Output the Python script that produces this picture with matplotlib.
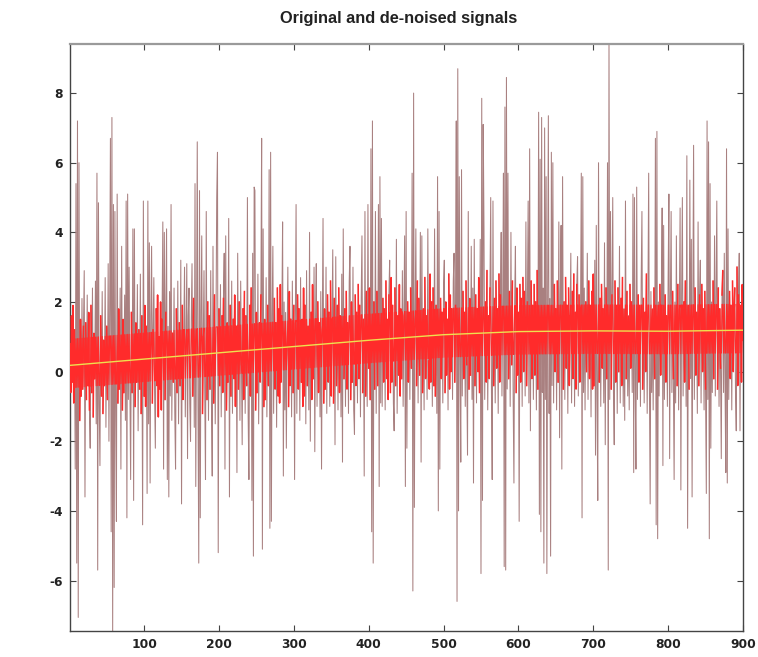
import numpy as np
import matplotlib
matplotlib.use("Agg")
import matplotlib.pyplot as plt

plt.rcParams['axes.unicode_minus'] = False

# noisy measurement, one value per sample (samples 1..900)
noisy = [
    0.8, -0.6, 1.6, -0.3, 1.9, -0.9, 1.2, -2.8, 5.4, -5.5, 7.2, -7.06, 6.0, -1.4, 1.5, -0.7, 2.1, -0.5, 1.3, 2.9,
    -3.6, 1.4, -0.8, 2.2, -0.4, 1.7, -1.1, -2.2, 1.9, -0.6, 2.4, -1.3, 1.1, -0.2, 2.6, -1.5, 5.7, -5.7, 4.85, -0.9,
    -2.7, 1.6, -0.7, 2.3, -1.2, 0.9, -0.4, 2.7, -1.6, 1.3, -0.8, 3.1, -2.0, 1.8, 6.7, -4.6, 7.3, -7.45, 4.8, -6.2,
    4.6, -1.3, -4.3, 5.1, -0.9, 1.8, -0.5, 2.4, -2.8, 3.6, -1.1, 1.5, -0.6, 2.2, -1.4, 4.9, -4.2, 5.1, -0.8, 3.0,
    -0.4, -3.1, 1.7, -0.6, 4.1, -3.7, 4.1, -1.0, 1.4, -0.3, 2.5, -1.7, 1.2, -0.5, 2.8, -1.2, 1.6, -4.4, 4.9, -0.7,
    1.9, -1.0, 1.3, -3.5, 4.9, -1.5, 3.7, -3.2, 1.6, 3.6, -0.9, 1.2, 2.7, -0.6, -2.2, 1.8, -0.4, 2.2, -1.3, 1.0,
    -0.5, 2.0, -1.1, 1.5, 4.3, -2.8, 4.0, -0.8, 1.7, 4.1, -3.1, 1.3, -3.6, 2.3, -0.7, 4.8, -1.4, 1.1, -0.3, 2.4,
    -1.2, -2.8, 1.8, -0.6, 2.6, -1.5, 1.4, -0.4, 3.2, -3.8, 1.9, -0.8, 1.2, 3.0, -1.3, 0.9, 3.1, -2.5, 1.6, 2.4,
    -0.9, -2.0, 1.5, 3.1, -0.7, 2.1, -1.6, 5.4, -3.3, 1.2, 6.6, -1.0, -5.5, 5.2, -4.2, 1.7, 3.9, -1.2, 1.0, 2.9,
    -0.6, -3.1, 4.6, -0.8, 2.0, -1.4, 1.6, -0.5, 2.9, -1.0, -3.0, 3.6, -0.9, 2.2, -1.5, 1.3, 5.0, 6.3, -5.2, 1.8,
    -0.4, 2.5, -1.3, 1.6, -0.6, 2.1, 3.4, -2.8, 3.9, -1.1, 1.4, -0.3, 4.4, -3.6, 1.9, -0.7, 2.6, -1.2, 1.5, -0.2,
    2.2, -1.0, 1.3, -2.9, 3.4, -0.5, 2.0, -1.4, 2.6, 0.2, -2.1, 1.8, -0.8, 2.3, -1.2, 1.6, -0.4, 5.0, -1.3, -3.1,
    1.9, -0.7, 2.4, -3.7, 3.4, -5.3, 5.3, 5.2, -1.1, 1.7, -0.6, 2.8, -1.5, 1.4, -0.3, 2.2, 6.7, -5.1, 4.1, -1.0,
    1.5, -0.8, 2.7, -1.3, 1.9, -0.4, 5.8, -4.5, 6.3, -4.3, 1.6, 3.6, -1.2, 2.1, -0.5, 1.4, -1.6, 2.4, -0.7, 1.8,
    -0.9, 2.5, -0.3, 1.6, 4.3, -3.0, 2.0, -1.1, 1.7, -2.2, 0.8, 3.0, -1.0, 2.3, -0.4, 1.5, -1.3, 2.6, -0.6, 1.9,
    -3.1, 1.4, 4.8, -1.2, 2.2, -0.5, 1.8, -1.4, 2.7, -0.3, 1.5, -1.0, 2.4, -0.7, 1.9, -1.5, 2.9, -0.4, 1.3, -1.1,
    4.0, -2.0, 1.7, -0.8, 2.5, -0.2, 3.0, -2.3, 1.6, 3.1, -1.0, 2.0, -0.6, 1.4, -1.3, 2.3, -2.8, 1.2, 4.4, -0.9,
    1.8, -0.5, 3.0, -1.2, 2.2, -0.3, 1.7, -1.0, 2.6, -0.7, 1.5, 3.5, -0.9, 2.1, -2.1, 3.3, -0.4, 1.9, -1.1, 2.4,
    -0.6, 1.6, -1.3, 2.8, -2.6, 4.1, -0.2, 1.8, -1.0, 2.3, -0.5, 1.4, -1.2, 2.6, 3.6, -0.8, 2.0, -0.3, 3.0, -1.1,
    -1.8, 2.2, -0.4, 1.7, -0.9, 2.5, -0.2, 1.9, -1.3, 2.1, 3.9, -0.6, 1.5, -3.0, 4.6, -0.7, 2.3, -1.0, 4.8, 0.1,
    2.4, -0.8, 6.4, -4.6, 7.2, -5.5, 2.0, -0.5, 4.6, -1.2, 2.3, -0.4, 4.8, -3.3, 5.6, -0.9, 4.4, -1.0, 2.1, -0.3,
    1.8, -1.1, 2.6, -0.2, 1.5, -0.8, 2.2, 3.2, -0.6, 2.7, -0.3, 1.9, -0.9, -1.7, 2.4, -0.4, 3.8, -1.2, 1.6, -0.1,
    2.5, -0.7, 1.8, -0.2, 2.9, -1.0, 1.6, 3.9, -3.3, 4.6, -2.2, 2.0, -0.3, 1.7, -0.8, 2.4, 0.1, 5.7, -6.3, 8.0,
    -3.9, 1.5, 4.1, -0.4, 2.6, -0.9, 2.1, -0.1, 4.0, -2.6, 3.9, -0.6, 1.8, -1.1, 2.7, -0.2, 1.6, -0.8, 4.1, 0.3,
    -0.5, 2.8, -0.3, 2.0, -1.0, 2.4, -0.4, 4.1, -0.7, 1.9, -1.2, 5.6, -4.0, 4.6, -2.8, 2.1, -0.2, 1.7, -0.9, 2.5,
    3.2, -0.6, 2.0, -0.1, 1.5, -1.1, 2.8, -0.5, 2.2, 0.0, 1.8, -0.8, 2.6, 3.4, -0.3, 1.9, 7.2, -6.6, 8.7, -4.0,
    5.6, 0.4, -2.6, 5.8, -0.7, 2.3, -0.2, 1.7, -1.0, 2.6, 0.2, -2.4, 4.6, -0.5, 2.1, -0.1, 3.6, -0.8, 2.4, -3.2,
    3.8, -0.4, 2.2, -0.9, 1.8, 0.0, 2.7, -0.6, 3.8, -5.8, 7.85, -3.7, 7.1, 4.1, -0.8, 2.0, -0.3, 2.9, -1.1, 1.6,
    -0.2, 2.4, 5.0, -0.6, -3.1, 4.9, -0.4, 2.1, -0.9, 2.6, 0.1, 1.8, -1.2, 2.8, -0.3, 2.2, 4.0, -0.7, 1.9, 5.7,
    -5.6, 7.6, -5.7, 8.45, -0.5, 5.7, -0.2, 2.3, -1.0, 4.0, 0.2, 2.6, -0.8, -3.2, 2.0, 3.6, -0.6, 2.4, -0.1, 1.7,
    -4.3, 2.5, -0.3, 2.1, -1.0, 2.7, 0.0, 2.3, -0.7, 4.3, -0.4, 2.0, 4.9, -0.9, 6.4, -1.7, 2.6, -0.2, 1.9, -0.8,
    2.5, -0.1, 2.0, -1.1, 2.9, -0.5, 7.45, -4.1, 6.1, -4.6, 7.3, -0.6, 2.4, -5.5, 7.0, -0.8, 5.6, -5.8, 2.2, 7.35,
    -1.2, 2.1, -5.3, 6.3, -0.4, 6.0, -0.9, 2.5, 0.0, 1.8, -1.1, 2.6, -0.3, 4.3, -1.9, 2.2, 4.2, -2.8, 5.6, -0.5,
    2.0, -0.8, 2.7, 0.1, 1.9, -1.2, 2.4, -0.4, 1.6, 3.4, -0.9, 2.3, -0.2, 2.8, -1.0, 1.7, -0.5, 2.5, 3.3, -0.7,
    2.2, -0.3, 1.8, 5.7, -4.2, 5.6, -0.6, 2.4, -1.1, 2.0, 0.0, 3.4, -0.8, 2.6, -0.2, 1.9, -1.3, 2.3, -0.5, 2.8,
    -0.4, 3.2, -2.4, 4.2, -0.7, -3.7, 6.0, -0.3, 2.1, -1.0, 2.5, 0.1, 1.8, -0.9, 3.7, -2.1, 2.4, -0.2, 6.0, -5.7,
    9.41, -0.8, 4.6, -0.5, 2.2, 5.0, -0.6, -2.1, 2.6, -0.3, 1.9, -1.2, 2.4, 0.0, 3.6, -0.9, 2.1, -0.4, 2.7, -1.0,
    1.8, -1.4, 4.9, -0.2, 2.3, -0.7, 1.6, -1.1, 2.5, 0.1, 2.0, -0.6, 5.1, -2.9, 5.0, -0.4, -2.8, 5.3, -0.8, 2.2,
    -0.3, 1.9, -1.0, 2.6, 4.6, -0.5, 2.1, -0.9, 1.7, 0.0, 2.8, -1.2, 2.0, 5.7, -0.4, -3.8, 2.3, -0.6, 1.8, -1.1,
    2.4, -0.2, 6.7, -4.4, 6.9, -4.8, 2.0, -0.7, 2.5, -0.1, 1.9, 4.7, -2.7, 4.2, -0.8, 2.2, -0.3, 1.6, -1.0, 2.7,
    5.1, -2.5, 2.1, 4.6, -0.6, 2.3, -0.2, -3.1, 2.0, -0.9, 3.9, -0.4, 2.5, -1.1, 1.8, 4.7, -3.4, 2.2, 5.0, -0.7,
    2.0, -0.3, 2.6, -1.0, 6.2, -4.5, 1.9, -0.5, 5.5, -0.2, 3.8, -3.6, 2.1, 6.5, -0.8, 2.4, -0.1, 1.7, -1.2, 4.3,
    -0.4, 2.2, 3.2, -0.9, 2.5, 0.0, 1.8, -1.1, 2.3, -0.5, -3.5, 7.2, -0.8, 6.6, -4.8, 5.4, -2.2, 2.0, -0.6, 2.6,
    -0.2, 3.9, -0.7, 2.1, 4.9, -0.5, 2.4, -1.0, 1.8, 0.1, -2.5, 2.2, 2.9, -0.6, 3.4, -0.3, -2.9, 6.4, -3.2, 4.1,
    -0.8, 2.3, -0.2, 1.9, -1.1, 2.6, 0.0, 1.7, 2.4, -0.6, -1.7, 3.0, -0.4, 2.2, 3.4, -1.7, 1.9, -0.3, 2.5, 0.9,
]

# de-noised estimate (slow trend)
trend_x = [1, 100, 200, 300, 400, 450, 500, 600, 700, 800, 900]
trend_y = [0.18, 0.36, 0.54, 0.72, 0.90, 0.98, 1.06, 1.15, 1.17, 1.16, 1.19]

x_ticks = [100, 200, 300, 400, 500, 600, 700, 800, 900]
y_ticks = [-6, -4, -2, 0, 2, 4, 6, 8]

sig = np.array(noisy)
n = np.arange(1, len(sig) + 1)

fig = plt.figure(figsize=(7.58, 6.57), dpi=100)
ax = fig.add_axes([70 / 758, 1 - 631 / 657, 673 / 758, 587 / 657])

# full signal: isolated thin strokes come out washed-out mauve
ax.plot(n, sig, color='#a98080', lw=0.75, zorder=2)

# samples close to the trend form the dense red body of the trace
ref = np.interp(n, trend_x, trend_y)
dev = sig - ref
near = np.where((dev > -1.75) & (dev < 1.85), sig, np.nan)
ax.plot(n, near, color='#ff2b2b', lw=1.1, zorder=3)
ax.plot(n, np.clip(sig, ref - 0.65, ref + 0.75), color='#ff2b2b', lw=0.8, zorder=3)

ax.plot(trend_x, trend_y, color='#efe04e', lw=1.0, zorder=4)

ax.set_xlim(1, 900)
ax.set_ylim(sig.min(), sig.max())
ax.set_xticks(x_ticks)
ax.set_yticks(y_ticks)

ax.tick_params(direction='in', length=4, width=0.8, color='#444444',
               top=True, right=True, labelsize=8.8, pad=5)
for lab in ax.get_xticklabels() + ax.get_yticklabels():
    lab.set_fontweight('bold')
    lab.set_color('#222222')

for side in ['left', 'bottom', 'right']:
    ax.spines[side].set_color('#444444')
    ax.spines[side].set_linewidth(1.0)
ax.spines['top'].set_color('#9a9a9a')
ax.spines['top'].set_linewidth(1.6)

ax.set_title('Original and de-noised signals', fontsize=11.8, fontweight='bold',
             family='Liberation Sans', color='#222222', pad=15, x=(399 - 70) / 673)

fig.savefig('out.png', dpi=100, facecolor='white')
